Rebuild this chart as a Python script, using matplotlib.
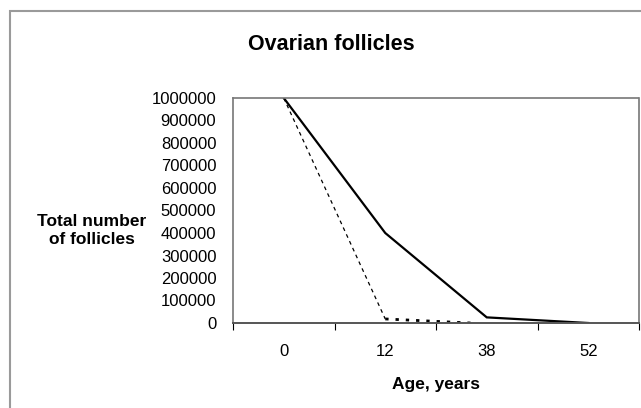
import matplotlib.pyplot as plt
from matplotlib.patches import Rectangle

plt.rcParams['font.family'] = ['Liberation Sans', 'DejaVu Sans']

# data
ages = ["0", "12", "38", "52"]
total_follicles = [1000000, 400000, 25000, 0]
# second (dashed) curve, x given in category positions
dashed_pos = [0, 1, 1.84]
dashed_vals = [1000000, 18000, 0]
yticks = [0, 100000, 200000, 300000, 400000, 500000, 600000, 700000, 800000, 900000, 1000000]

fig = plt.figure(figsize=(6.41, 4.08), dpi=100)
fig.patch.set_facecolor('white')

# outer chart frame
fig.patches.append(Rectangle((10 / 641, -0.1), 1.2, (408 - 11) / 408 + 0.1,
                             transform=fig.transFigure, fill=False,
                             edgecolor='#9a9a9a', linewidth=1.5))

ax = fig.add_axes([233 / 641, 85 / 408, 406 / 641, 225 / 408])

pos = list(range(len(ages)))
ax.plot(pos, total_follicles, color='black', linewidth=1.6, solid_joinstyle='miter')
ax.plot(dashed_pos[:2], dashed_vals[:2], color='black', linewidth=0.9,
        linestyle=(0, (3, 3)))
ax.plot(dashed_pos[1:], dashed_vals[1:], color='black', linewidth=2,
        linestyle=(0, (1.2, 2.5)))

ax.set_xlim(-0.5, len(ages) - 0.5)
ax.set_ylim(0, 1000000)
ax.set_yticks(yticks)
ax.set_yticklabels([str(v) for v in yticks], fontsize=12)
ax.tick_params(axis='y', length=0, pad=12)

ax.set_xticks([p + 0.5 for p in range(-1, len(ages))], minor=False)
ax.set_xticklabels([])
ax.set_xticks(pos, minor=True)
ax.set_xticklabels(ages, minor=True, fontsize=12)
ax.tick_params(axis='x', which='major', length=5, direction='out', color='black')
ax.tick_params(axis='x', which='minor', length=0, pad=15)

for s in ['top', 'right', 'left']:
    ax.spines[s].set_color('#777777')
    ax.spines[s].set_linestyle((0, (1, 1)))
    ax.spines[s].set_linewidth(1.2)
ax.spines['bottom'].set_color('#555555')
ax.spines['bottom'].set_linestyle((0, (1, 1)))
ax.spines['bottom'].set_linewidth(1.4)

fig.text(331 / 641, 1 - 44 / 408, "Ovarian follicles", ha='center', va='center',
         fontsize=15.5, fontweight='bold')
fig.text(92 / 641, 1 - 231 / 408, "Total number\nof follicles", ha='center', va='center',
         fontsize=12.5, fontweight='bold', linespacing=1.25)
fig.text(436 / 641, 1 - 384 / 408, "Age, years", ha='center', va='center',
         fontsize=12.5, fontweight='bold')

fig.savefig("out.png", dpi=100)
